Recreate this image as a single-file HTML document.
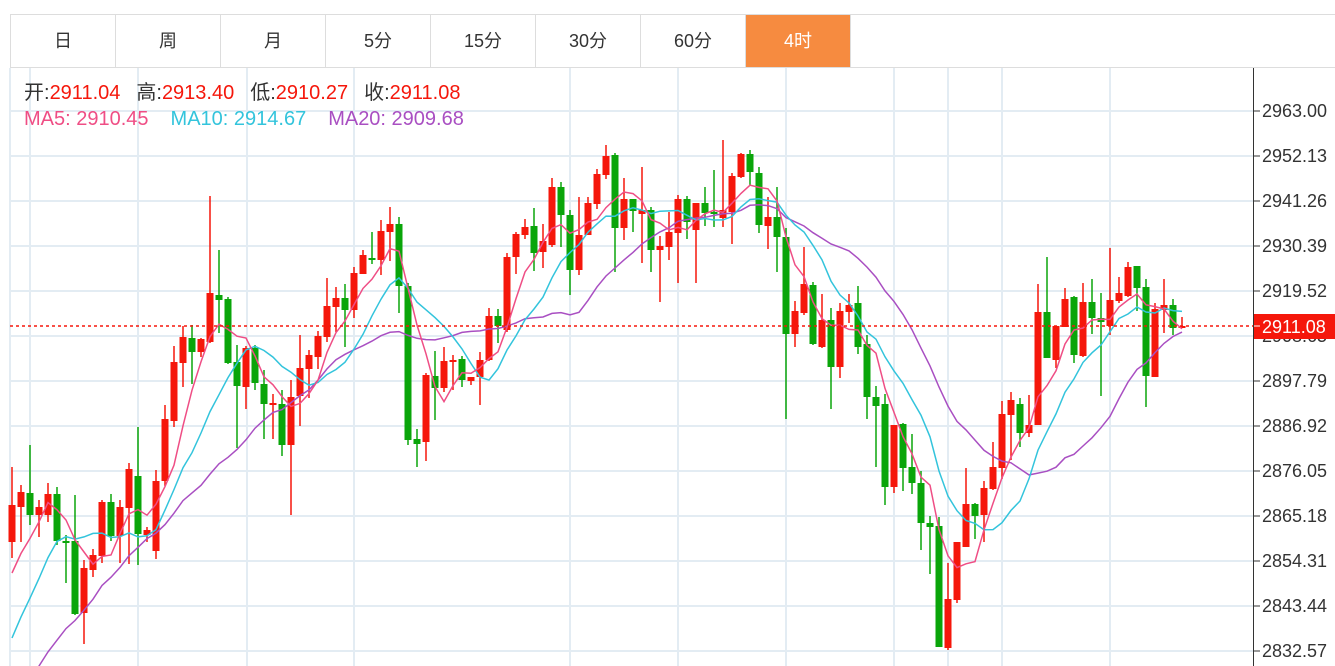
<!DOCTYPE html>
<html style="overflow:hidden;width:1335px;height:666px"><head><meta charset="utf-8">
<style>
body{margin:0;width:1335px;height:666px;overflow:hidden;background:#fff;font-family:"Liberation Sans","Noto Sans CJK SC",sans-serif;position:relative;}
.tabs{position:absolute;left:10px;top:14px;height:54px;display:flex;border:1px solid #ddd;border-right:none;width:1325px;box-sizing:border-box;overflow:hidden;}
.tab{width:104px;flex:none;border-right:1px solid #ddd;text-align:center;line-height:53px;font-size:18px;color:#333;}
.tab.on{background:#f68b40;color:#fff;}
.info{position:absolute;left:24px;font-size:20px;white-space:nowrap;line-height:24px;}
.g1{margin-left:16px}.g2{margin-left:22px}
</style></head><body>
<svg id="s" width="1335" height="666" style="position:absolute;left:0;top:0;display:block"></svg>
<div class="tabs"><div class="tab">日</div><div class="tab">周</div><div class="tab">月</div><div class="tab">5分</div><div class="tab">15分</div><div class="tab">30分</div><div class="tab">60分</div><div class="tab on">4时</div></div>
<div class="info" style="top:81px;color:#333">开:<span style="color:#f5170b">2911.04</span><span class="g1">高:</span><span style="color:#f5170b">2913.40</span><span class="g1">低:</span><span style="color:#f5170b">2910.27</span><span class="g1">收:</span><span style="color:#f5170b">2911.08</span></div>
<div class="info" style="top:107px"><span style="color:#ef4e85">MA5:&nbsp;2910.45</span><span class="g2" style="color:#33c4dc">MA10:&nbsp;2914.67</span><span class="g2" style="color:#a94fc2">MA20:&nbsp;2909.68</span></div>
<script>
var C=[[505,542,467,558,1],[492,507,485,542,1],[493,515,445,525,0],[507,515,500,537,1],[494,515,483,522,1],[494,541,487,545,0],[541,543,535,583,0],[541,614,495,615,0],[568,613,560,644,1],[555,570,549,577,1],[502,556,500,563,1],[502,536,494,541,0],[507,536,500,563,1],[469,508,463,564,1],[476,534,427,565,0],[530,535,527,542,1],[481,551,470,559,1],[419,481,405,486,1],[362,421,346,427,1],[337,363,326,387,1],[338,352,325,384,0],[339,352,338,357,1],[293,342,196,343,1],[295,300,250,333,0],[299,363,297,364,0],[362,386,345,448,0],[348,387,346,409,1],[348,383,345,390,0],[384,404,370,439,0],[403,405,394,439,1],[404,445,390,456,0],[397,445,380,515,1],[368,396,335,426,1],[355,369,350,398,1],[336,357,331,369,1],[306,337,278,342,1],[298,307,287,332,1],[298,310,284,347,0],[273,310,267,318,1],[255,274,250,274,1],[258,260,232,264,0],[231,260,220,275,1],[224,232,207,261,1],[224,286,217,313,0],[286,440,283,445,0],[439,444,429,467,0],[375,442,373,461,1],[376,388,351,420,0],[361,388,347,392,1],[360,362,355,390,1],[359,380,356,387,0],[377,381,377,385,1],[360,377,352,405,1],[316,360,308,361,1],[316,326,309,343,0],[257,330,253,332,1],[234,257,232,274,1],[227,235,219,239,1],[226,253,208,271,0],[241,252,224,268,1],[187,245,178,247,1],[187,215,182,247,0],[215,270,210,295,0],[235,270,197,275,1],[203,235,197,235,1],[174,204,169,209,1],[156,175,145,179,1],[155,228,153,272,0],[199,228,178,240,1],[199,211,199,232,0],[210,214,167,263,1],[210,250,207,272,0],[246,250,236,302,1],[232,247,212,260,1],[199,233,195,283,1],[199,222,196,239,0],[203,230,203,283,1],[203,213,187,226,0],[212,214,170,227,0],[210,218,140,227,1],[176,212,173,244,1],[154,177,153,178,1],[154,172,150,185,0],[173,225,167,233,0],[217,226,197,249,1],[217,237,187,272,0],[237,334,228,419,0],[311,334,301,347,1],[284,313,247,315,1],[285,344,282,345,0],[320,347,294,348,1],[320,367,308,409,0],[311,367,303,378,1],[305,312,294,323,1],[303,347,286,354,0],[344,397,335,419,0],[397,406,386,467,0],[404,487,394,505,0],[425,487,425,493,1],[424,468,423,491,0],[467,483,434,494,0],[483,523,471,550,0],[523,527,516,574,0],[526,647,517,647,0],[599,648,563,650,1],[542,600,542,603,1],[504,547,468,547,1],[504,516,503,539,0],[488,515,481,542,1],[467,489,442,490,1],[414,468,401,479,1],[400,415,392,460,1],[404,433,398,447,0],[425,433,395,437,1],[312,425,284,425,1],[312,358,257,358,0],[326,360,326,368,1],[299,327,288,327,1],[297,355,296,363,0],[302,356,283,357,1],[302,318,279,334,0],[318,322,293,396,0],[300,326,248,335,1],[293,301,277,303,1],[267,296,262,297,1],[266,288,266,311,0],[287,376,279,407,0],[309,377,303,377,1],[305,310,279,333,1],[305,328,299,335,0],[326,327,317,328,1]];
var s=document.getElementById('s'),h='';
var ticks=['2963.00','2952.13','2941.26','2930.39','2919.52','2908.65','2897.79','2886.92','2876.05','2865.18','2854.31','2843.44','2832.57'];
[30,138,247,354,570,678,786,894,948,1002,1110].forEach(function(x){h+='<line x1="'+x+'" y1="68" x2="'+x+'" y2="666" stroke="#e3ecf3" stroke-width="2"/>';});
h+='<line x1="10" y1="68" x2="10" y2="666" stroke="#e3ecf3" stroke-width="2"/>';
ticks.forEach(function(t,i){var y=111+i*45;h+='<line x1="10" y1="'+y+'" x2="1253" y2="'+y+'" stroke="#e3ecf3" stroke-width="2"/><line x1="1253" y1="'+y+'" x2="1260" y2="'+y+'" stroke="#333"/><text x="1262" y="'+(y+6)+'" font-size="18" fill="#333" font-family="Liberation Sans">'+t+'</text>';});
h+='<line x1="1253.5" y1="68" x2="1253.5" y2="666" stroke="#333"/>';
var cl=C.map(function(c){return c[4]?c[0]:c[1];});
var pre=[];for(var i=0;i<19;i++)pre.push(i<4?590:(i<9?703:775));
var all=pre.reverse().concat(cl);
function ma(n,col){var p=[];for(var i=0;i<C.length;i++){var k=i+19,sm=0;for(var j=0;j<n;j++)sm+=all[k-j];p.push((12+9*i)+','+(sm/n).toFixed(1));}return '<polyline points="'+p.join(' ')+'" fill="none" stroke="'+col+'" stroke-width="1.5"/>';}
C.forEach(function(c,i){var x=12+9*i,col=c[4]?'#f5170b':'#0aa50a';h+='<line x1="'+x+'" y1="'+c[2]+'" x2="'+x+'" y2="'+c[3]+'" stroke="'+col+'" stroke-width="1.5"/><rect x="'+(x-3.5)+'" y="'+c[0]+'" width="7" height="'+Math.max(2,c[1]-c[0])+'" fill="'+col+'"/>';});
h+=ma(20,'#a94fc2')+ma(10,'#33c4dc')+ma(5,'#ef4e85');
h+='<line x1="10" y1="326" x2="1253" y2="326" stroke="#f5170b" stroke-width="1.5" stroke-dasharray="3,3"/>';
h+='<rect x="1254" y="314" width="81" height="25" fill="#f5170b"/><line x1="1254" y1="326" x2="1260" y2="326" stroke="#fff"/><text x="1262" y="333" font-size="18" fill="#fff" font-family="Liberation Sans">2911.08</text>';
s.innerHTML=h;
</script>
</body></html>
